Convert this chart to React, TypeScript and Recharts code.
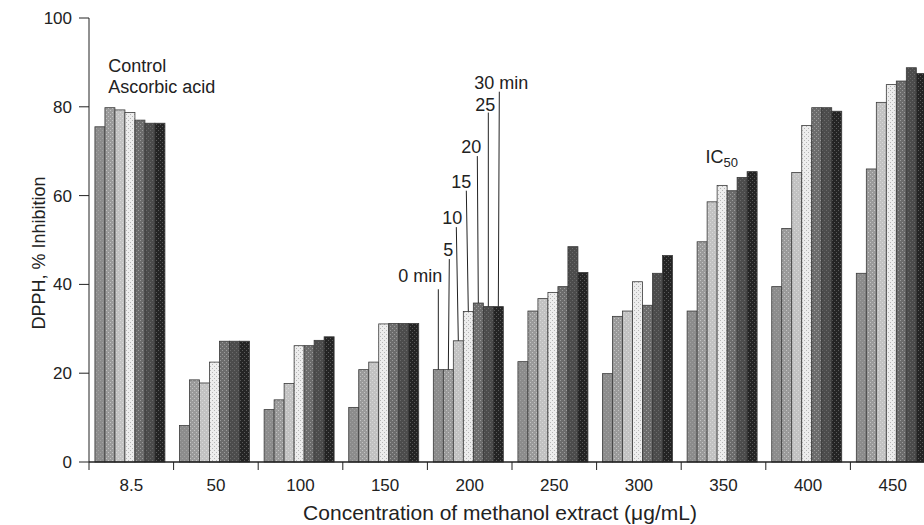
import React from "react";
import { BarChart, Bar, XAxis, YAxis, ReferenceDot, Label } from "recharts";

// DPPH inhibition of the methanol extract over time, per concentration
const concentrations = ["8.5", "50", "100", "150", "200", "250", "300", "350", "400", "450"];
const yTicks = [0, 20, 40, 60, 80, 100];
const times = ["0 min", "5", "10", "15", "20", "25", "30 min"];

const min0 = [75.5, 8.2, 11.8, 12.3, 20.8, 22.6, 19.9, 34.0, 39.5, 42.5];
const min5 = [79.8, 18.5, 14.0, 20.8, 20.8, 34.0, 32.8, 49.6, 52.6, 66.0];
const min10 = [79.3, 17.8, 17.7, 22.5, 27.3, 36.8, 34.0, 58.6, 65.2, 81.0];
const min15 = [78.7, 22.5, 26.2, 31.1, 33.9, 38.2, 40.6, 62.3, 75.8, 85.0];
const min20 = [77.0, 27.2, 26.2, 31.2, 35.8, 39.5, 35.3, 61.1, 79.8, 85.8];
const min25 = [76.3, 27.2, 27.4, 31.2, 35.0, 48.5, 42.5, 64.1, 79.8, 88.8];
const min30 = [76.3, 27.2, 28.2, 31.2, 35.0, 42.7, 46.5, 65.4, 79.0, 87.5];

// where the "minutes" leader lines end, in % inhibition
const leaderTops = [38.9, 45.7, 52.9, 61.1, 68.9, 78.7, 83.4];
const annotatedConc = "200";

const series = [min0, min5, min10, min15, min20, min25, min30];
const keys = ["m0", "m5", "m10", "m15", "m20", "m25", "m30"];

const data = concentrations.map((conc, i) => {
  const row: Record<string, any> = { conc };
  keys.forEach((k, j) => (row[k] = series[j][i]));
  return row;
});

const FONT = "'Liberation Sans', Arial, Helvetica, sans-serif";
const INK = "#222";

const CHART_W = 940;
const CHART_H = 525;
const Y_AXIS_W = 89;
const MARGIN = { top: 18, right: 5, bottom: 33, left: 0 };
const PLOT_W = CHART_W - MARGIN.right - MARGIN.left - Y_AXIS_W;
const BAND = PLOT_W / concentrations.length;

// greyscale fill patterns, light to dark like the print
const patterns = [
  { base: "#8c8c8c", dot: "#a2a2a2" },
  { base: "#9a9a9a", dot: "#c4c4c4" },
  { base: "#c2c2c2", dot: "#d9d9d9" },
  { base: "#ededed", dot: "#b5b5b5" },
  { base: "#6c6c6c", dot: "#9c9c9c" },
  { base: "#4c4c4c", dot: "#6a6a6a" },
  { base: "#242424", dot: "#5a5a5a" },
];

// text placement for the leader-line labels
const leaderText = [
  { lean: 0, dx: 4, dy: -14, anchor: "end" },
  { lean: 1, dx: 4, dy: -9, anchor: "end" },
  { lean: -2, dx: 6, dy: -9, anchor: "end" },
  { lean: -2, dx: 5, dy: -9, anchor: "end" },
  { lean: -1, dx: 4, dy: -9, anchor: "end" },
  { lean: 0, dx: 7, dy: -8, anchor: "end" },
  { lean: 1, dx: -25, dy: -9, anchor: "start" },
];

function makeShape(k: number) {
  return (p: any) => {
    const { x, y, width, height, payload } = p;
    if (!height || height <= 0) return <g />;
    const v = payload[keys[k]];
    let annot = null;
    if (payload.conc === annotatedConc) {
      const t = leaderText[k];
      const cx = x + width / 2;
      const base = y + height;
      const topY = base - (leaderTops[k] * height) / v;
      const tx = cx + t.lean;
      annot = (
        <g>
          <line x1={cx} y1={y} x2={tx} y2={topY} stroke={INK} strokeWidth={1} />
          <text
            x={tx + t.dx}
            y={topY + t.dy}
            dy="0.35em"
            textAnchor={t.anchor}
            fontSize={18}
            fontFamily={FONT}
            fill={INK}
          >
            {times[k]}
          </text>
        </g>
      );
    }
    return (
      <g>
        <rect
          x={x}
          y={y}
          width={width}
          height={height}
          fill={`url(#pat${k})`}
          stroke="#3a3a3a"
          strokeWidth={0.8}
        />
        {annot}
      </g>
    );
  };
}

const XTick = (p: any) => {
  const { x, y, payload } = p;
  const bx = x - BAND / 2;
  return (
    <g>
      <line x1={bx} x2={bx} y1={y} y2={y + 8} stroke={INK} strokeWidth={1} />
      <text
        x={x}
        y={y + 23}
        dy="0.35em"
        textAnchor="middle"
        fontSize={17}
        fontFamily={FONT}
        fill={INK}
      >
        {payload.value}
      </text>
    </g>
  );
};

export default function App() {
  return (
    <div
      style={{
        position: "fixed",
        left: 0,
        top: 0,
        width: 924,
        height: 525,
        overflow: "hidden",
        background: "#fff",
      }}
    >
      <BarChart
        width={CHART_W}
        height={CHART_H}
        data={data}
        margin={MARGIN}
        barCategoryGap="7%"
        barGap={0}
      >
        <defs>
          {patterns.map((pt, i) => (
            <pattern
              key={i}
              id={`pat${i}`}
              width={4}
              height={4}
              patternUnits="userSpaceOnUse"
            >
              <rect width={4} height={4} fill={pt.base} />
              <rect x={0} y={0} width={1} height={1} fill={pt.dot} />
              <rect x={2} y={2} width={1} height={1} fill={pt.dot} />
            </pattern>
          ))}
        </defs>
        <XAxis
          dataKey="conc"
          interval={0}
          tickSize={0}
          tickMargin={0}
          tick={<XTick />}
          axisLine={{ stroke: INK, strokeWidth: 1.5 }}
          height={30}
        >
          <Label
            content={() => (
              <text
                x={Y_AXIS_W + PLOT_W / 2 - 12}
                y={513}
                dy="0.35em"
                textAnchor="middle"
                fontSize={21}
                fontFamily={FONT}
                fill={INK}
              >
                Concentration of methanol extract (μg/mL)
              </text>
            )}
          />
        </XAxis>
        <YAxis
          width={Y_AXIS_W}
          domain={[0, 100]}
          ticks={yTicks}
          interval={0}
          tickSize={10}
          tickMargin={7}
          tick={{ fill: INK, fontSize: 17, fontFamily: FONT }}
          axisLine={{ stroke: INK }}
          tickLine={{ stroke: INK }}
        >
          <Label
            content={() => (
              <text
                x={39}
                y={253}
                dy="0.35em"
                textAnchor="middle"
                fontSize={18}
                fontFamily={FONT}
                fill={INK}
                transform="rotate(-90, 39, 253)"
              >
                DPPH, % Inhibition
              </text>
            )}
          />
        </YAxis>
        {keys.map((k, i) => (
          <Bar
            key={k}
            dataKey={k}
            fill={`url(#pat${i})`}
            isAnimationActive={false}
            shape={makeShape(i)}
          />
        ))}
        <ReferenceDot
          x="8.5"
          y={83}
          r={0}
          fill="none"
          stroke="none"
          label={{
            content: (p: any) => {
              const vb = p.viewBox || {};
              const bx = (vb.x ?? 0) + (vb.width ?? 0) / 2 - 23;
              const by = (vb.y ?? 0) + (vb.height ?? 0) / 2;
              return (
                <text fontSize={18} fontFamily={FONT} fill={INK}>
                  <tspan x={bx} y={by - 21}>Control</tspan>
                  <tspan x={bx} y={by}>Ascorbic acid</tspan>
                </text>
              );
            },
          }}
        />
        <ReferenceDot
          x="350"
          y={67.4}
          r={0}
          fill="none"
          stroke="none"
          label={{
            content: (p: any) => {
              const vb = p.viewBox || {};
              const bx = (vb.x ?? 0) + (vb.width ?? 0) / 2 - 18;
              const by = (vb.y ?? 0) + (vb.height ?? 0) / 2;
              return (
                <text x={bx} y={by} fontSize={18} fontFamily={FONT} fill={INK}>
                  IC
                  <tspan fontSize={13} dy={4}>50</tspan>
                </text>
              );
            },
          }}
        />
      </BarChart>
    </div>
  );
}
